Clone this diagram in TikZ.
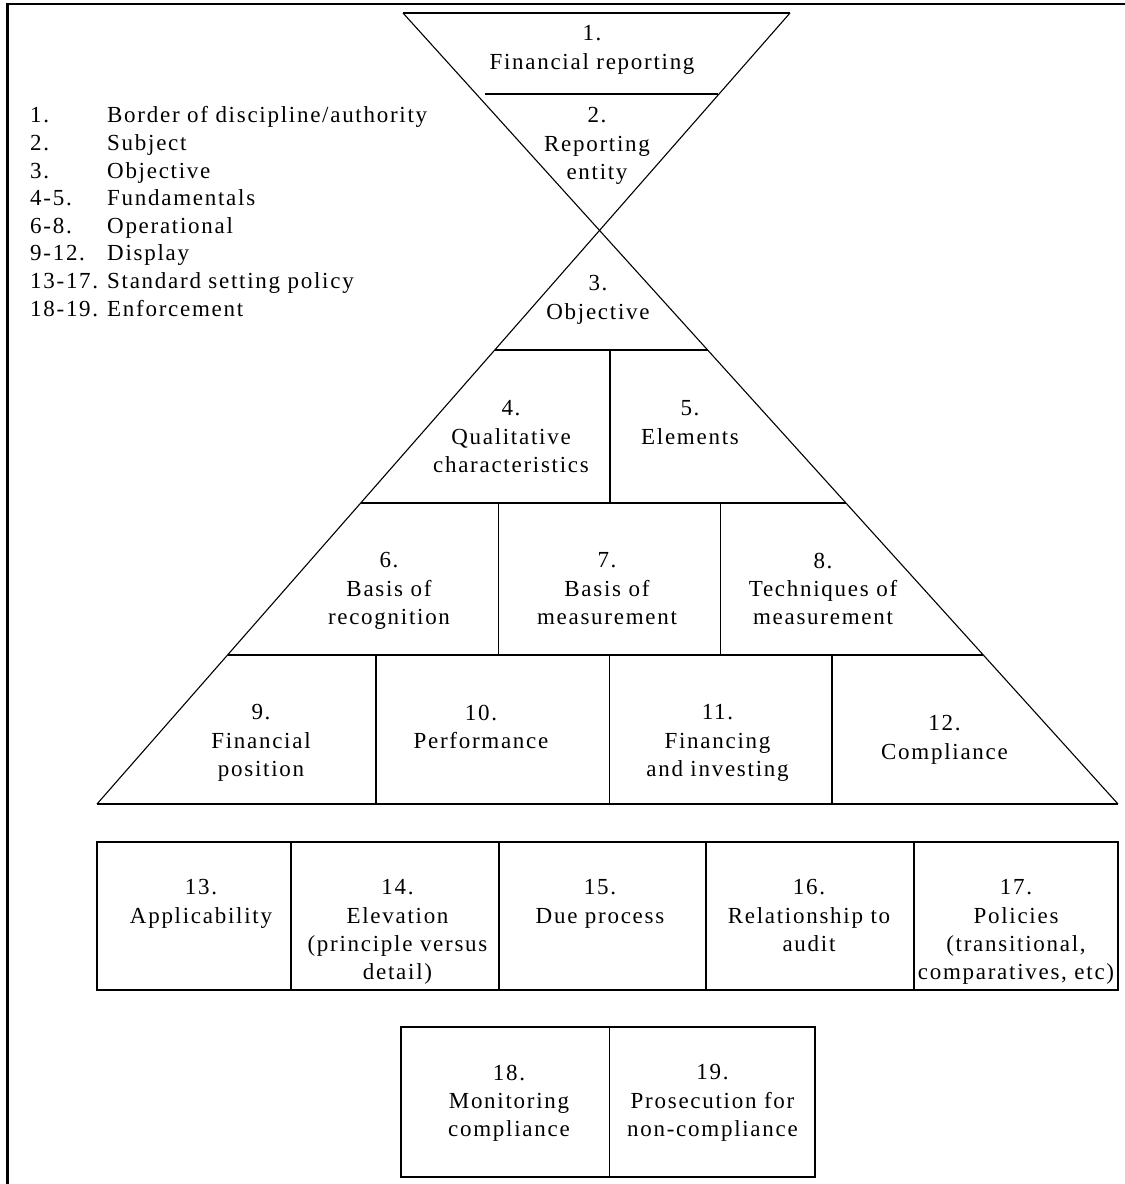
\documentclass[tikz,border=0pt]{standalone}
\usepackage{fontspec}
\newfontfamily\dfont[LetterSpace=7.5]{Liberation Serif}
\begin{document}
\begin{tikzpicture}[x=1pt,y=-1pt,
  edge/.style={line width=1.4pt},
  diag/.style={line width=1.1pt},
  framel/.style={line width=2.4pt},
  lbl/.style={font=\dfont\fontsize{23}{28.3}\selectfont, align=center, inner sep=0pt, anchor=north},
  leg/.style={font=\dfont\fontsize{23}{27.6}\selectfont, inner sep=0pt, anchor=base west}]
\useasboundingbox (0,0) rectangle (1125,1184);
% frame (top and left only)
\draw[framel] (7.5,1184) -- (7.5,4) -- (1125,4);

% hourglass / pyramid outline
\coordinate (A1) at (403,13);
\coordinate (A2) at (1118,804);
\coordinate (B1) at (790,13);
\coordinate (B2) at (97,804);
\coordinate (r3l) at (0,350);  \coordinate (r3r) at (1125,350);
\coordinate (r4l) at (0,503);  \coordinate (r4r) at (1125,503);
\coordinate (r6l) at (0,655);  \coordinate (r6r) at (1125,655);
\coordinate (L3) at (intersection of B1--B2 and r3l--r3r);
\coordinate (R3) at (intersection of A1--A2 and r3l--r3r);
\coordinate (L4) at (intersection of B1--B2 and r4l--r4r);
\coordinate (R4) at (intersection of A1--A2 and r4l--r4r);
\coordinate (L6) at (intersection of B1--B2 and r6l--r6r);
\coordinate (R6) at (intersection of A1--A2 and r6l--r6r);

\draw[diag] (A1) -- (A2);
\draw[diag] (B1) -- (B2);
\draw[edge] (A1) -- (B1);
\draw[edge] (485,94) -- (718,94);
\draw[edge] (L3) -- (R3);
\draw[edge] (L4) -- (R4);
\draw[edge] (L6) -- (R6);
\draw[edge] (B2) -- (A2);
% dividers
\draw[edge] (610,350) -- (610,503);
\draw[edge] (498.5,503) -- (498.5,655);
\draw[edge] (720.5,503) -- (720.5,655);
\draw[edge] (376,655) -- (376,804);
\draw[edge] (609.5,655) -- (609.5,804);
\draw[edge] (832,655) -- (832,804);

% row of boxes 13-17
\draw[edge] (97,842) rectangle (1118,990);
\draw[edge] (291,842) -- (291,990);
\draw[edge] (499,842) -- (499,990);
\draw[edge] (706,842) -- (706,990);
\draw[edge] (914,842) -- (914,990);

% boxes 18-19
\draw[edge] (401,1027) rectangle (815,1177);
\draw[edge] (609.5,1027) -- (609.5,1177);

% cell texts
\node[lbl] (n1) at (592,25.5) {1.\\Financial reporting};
\node[lbl] (n2) at (597,107.5) {2.\\Reporting\\entity};
\node[lbl] (n3) at (598,275.5) {3.\\Objective};
\node[lbl] (n4) at (511,400.5) {4.\\Qualitative\\characteristics};
\node[lbl] (n5) at (690,400.5) {5.\\Elements};
\node[lbl] (n6) at (389,552.5) {6.\\Basis of\\recognition};
\node[lbl] (n7) at (607,552.5) {7.\\Basis of\\measurement};
\node[lbl] (n8) at (823,552.5) {8.\\Techniques of\\measurement};
\node[lbl] (n9) at (261,704.5) {9.\\Financial\\position};
\node[lbl] (n10) at (481,704.5) {10.\\Performance};
\node[lbl] (n11) at (717.5,704.5) {11.\\Financing\\and investing};
\node[lbl] (n12) at (944.5,715.5) {12.\\Compliance};
\node[lbl] (n13) at (201,879.5) {13.\\Applicability};
\node[lbl] (n14) at (397.5,879.5) {14.\\Elevation\\(principle versus\\detail)};
\node[lbl] (n15) at (600,879.5) {15.\\Due process};
\node[lbl] (n16) at (809,879.5) {16.\\Relationship to\\audit};
\node[lbl] (n17) at (1016,879.5) {17.\\Policies\\(transitional,\\comparatives, etc)};
\node[lbl] (n18) at (509,1064.5) {18.\\Monitoring\\compliance};
\node[lbl] (n19) at (712.5,1064.5) {19.\\Prosecution for\\non-compliance};

% legend
\node[leg] (k1)  at (30,122.8) {1.};
\node[leg] (t1)  at (107,122.8) {Border of discipline/authority};
\node[leg] (k2)  at (30,150.4) {2.};
\node[leg] (t2)  at (107,150.4) {Subject};
\node[leg] (k3)  at (30,178.0) {3.};
\node[leg] (t3)  at (107,178.0) {Objective};
\node[leg] (k4)  at (30,205.6) {4-5.};
\node[leg] (t4)  at (107,205.6) {Fundamentals};
\node[leg] (k5)  at (30,233.2) {6-8.};
\node[leg] (t5)  at (107,233.2) {Operational};
\node[leg] (k6)  at (30,260.8) {9-12.};
\node[leg] (t6)  at (107,260.8) {Display};
\node[leg] (k7)  at (30,288.4) {13-17.};
\node[leg] (t7)  at (107,288.4) {Standard setting policy};
\node[leg] (k8)  at (30,316.0) {18-19.};
\node[leg] (t8)  at (107,316.0) {Enforcement};
\end{tikzpicture}
\end{document}
